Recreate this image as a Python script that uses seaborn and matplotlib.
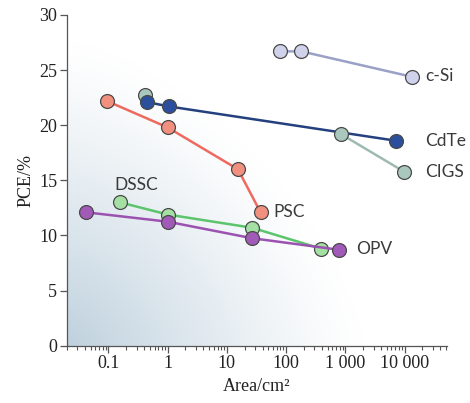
import numpy as np
import pandas as pd
import matplotlib
matplotlib.use("Agg")
import matplotlib.pyplot as plt
import seaborn as sns

# Certified efficiency vs. device area for each PV technology
csi_area = [79, 180, 13177]
csi_pce = [26.7, 26.7, 24.4]

cdte_area = [0.45, 1.06, 7038]
cdte_pce = [22.1, 21.7, 18.6]

cigs_area = [0.41, 841, 9703]
cigs_pce = [22.7, 19.2, 15.8]

psc_area = [0.094, 1.0, 15.4, 37]
psc_pce = [22.2, 19.8, 16.0, 12.1]

dssc_area = [0.158, 1.0, 26.6, 390]
dssc_pce = [13.0, 11.9, 10.7, 8.8]

opv_area = [0.042, 1.0, 26.6, 790]
opv_pce = [12.1, 11.25, 9.75, 8.7]

x_ticks = [0.1, 1, 10, 100, 1000, 10000]
x_tick_labels = ["0.1", "1", "10", "100", "1 000", "10 000"]
y_ticks = [0, 5, 10, 15, 20, 25, 30]

sns.set_theme(style="ticks")
serif = ["Liberation Serif", "DejaVu Serif"]
sans = ["Lato", "DejaVu Sans"]

fig = plt.figure(figsize=(4.70, 4.03), dpi=100)
ax = fig.add_axes([0.1426, 0.1422, 0.8084, 0.8206])
ax.set_xscale("log")
ax.set_xlim(0.02, 52000)
ax.set_ylim(0, 30)

# soft blue wash in the lower-left corner, fading smoothly to white
gx, gy = np.meshgrid(np.linspace(0, 1, 300), np.linspace(0, 1, 300))
d = ((gx / 0.78) ** 1.5 + (gy / 0.92) ** 1.5) ** (1 / 1.5)
t = np.clip(1.0 - d, 0, 1) ** 1.2
c0 = np.array([1.0, 1.0, 1.0])
c1 = np.array([0.75, 0.82, 0.87])
img = c0[None, None, :] * (1 - t[..., None]) + c1[None, None, :] * t[..., None]
ax.imshow(img, origin="lower", extent=[0, 1, 0, 1], transform=ax.transAxes,
          aspect="auto", zorder=0, interpolation="bilinear")

def series(xs, ys, line, face, z, lw=1.8):
    df = pd.DataFrame({"area": xs, "pce": ys})
    sns.lineplot(data=df, x="area", y="pce", ax=ax, color=line, lw=lw,
                 marker="o", markersize=10, markerfacecolor=face,
                 markeredgecolor="#4a4a4a", markeredgewidth=0.9,
                 zorder=z, sort=False)

# CIGS lab cell sits under the CdTe markers
sns.scatterplot(x=cigs_area[:1], y=cigs_pce[:1], ax=ax, s=100, color="#a9c7bd",
                edgecolor="#4a4a4a", linewidth=0.9, zorder=3)
series(cdte_area, cdte_pce, "#24407e", "#2b4f9c", 4)
series(cigs_area[1:], cigs_pce[1:], "#9fbab2", "#a9c7bd", 5)
series(csi_area, csi_pce, "#9aa0c6", "#cfd2ea", 4)
series(psc_area, psc_pce, "#ee6a5e", "#f2907f", 4)
series(dssc_area, dssc_pce, "#5cc46c", "#a4e0a4", 4)
series(opv_area, opv_pce, "#9b52b0", "#a25ab8", 5)

lab = dict(fontsize=12.5, color="#3a3a3a", family=sans, va="center")
ax.text(0.128, 14.6, "DSSC", ha="left", **lab)
ax.text(62, 12.1, "PSC", ha="left", **lab)
ax.text(1550, 8.8, "OPV", ha="left", **lab)
ax.text(22500, 24.5, "c-Si", ha="left", **lab)
ax.text(22500, 18.6, "CdTe", ha="left", **lab)
ax.text(22500, 15.8, "CIGS", ha="left", **lab)

ax.set_xticks(x_ticks)
ax.set_xticklabels(x_tick_labels)
ax.set_yticks(y_ticks)
for lbl in ax.get_xticklabels() + ax.get_yticklabels():
    lbl.set_family(serif)
    lbl.set_fontsize(13)
    lbl.set_color("#222222")

ax.tick_params(axis="both", which="major", length=5, width=0.9, color="#555555", pad=2)
ax.tick_params(axis="x", which="minor", length=3, width=0.8, color="#555555")
ax.set_xlabel("Area/cm²", family=serif, fontsize=13, color="#222222", labelpad=4)
ax.set_ylabel("PCE/%", family=serif, fontsize=13, color="#222222", labelpad=3)

sns.despine(ax=ax)
for s in ("left", "bottom"):
    ax.spines[s].set_color("#555555")
    ax.spines[s].set_linewidth(0.9)
ax.grid(False)

fig.savefig("out.png", dpi=100)
